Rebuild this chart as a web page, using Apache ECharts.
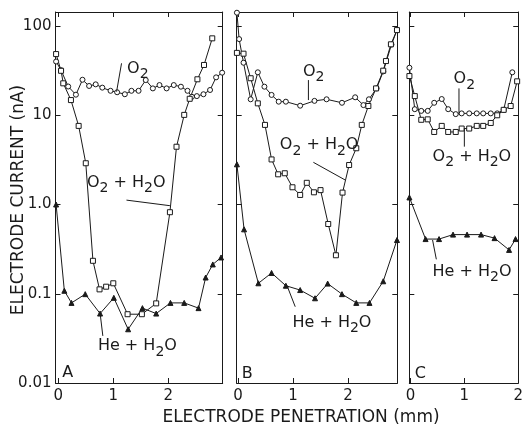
<!DOCTYPE html>
<html>
<head>
<meta charset="utf-8">
<title>Electrode current</title>
<script src="https://cdn.jsdelivr.net/npm/echarts@6/dist/echarts.min.js"></script>
<style>
  html, body { margin: 0; background: #fff; }
  #main { width: 526px; height: 426px; }
</style>
</head>
<body>
<div id="main"></div>
<script>
// ---- data: [penetration mm, current nA] ----
// panel A
var aO2 = [[-0.04, 40], [0.05, 32], [0.18, 21], [0.32, 17], [0.44, 25], [0.56, 21.3], [0.68, 22.2],
  [0.80, 20.4], [0.95, 18.8], [1.07, 18.1], [1.21, 17.2], [1.33, 18.8], [1.46, 18.8], [1.59, 24.8],
  [1.72, 20], [1.84, 21.8], [1.97, 20], [2.10, 21.8], [2.23, 20.9], [2.35, 18.8], [2.43, 16.1],
  [2.52, 16.4], [2.64, 17.2], [2.76, 19.2], [2.87, 26.6], [2.98, 30]];
var aO2H2O = [[-0.04, 48.5], [0.05, 31.5], [0.09, 22.8], [0.23, 14.8], [0.37, 7.6], [0.50, 2.9],
  [0.63, 0.234], [0.75, 0.112], [0.87, 0.120], [1.00, 0.131], [1.26, 0.059], [1.52, 0.059],
  [1.78, 0.078], [2.03, 0.82], [2.15, 4.44], [2.29, 10.1], [2.39, 15.3], [2.53, 25.3],
  [2.65, 36.6], [2.80, 72.8]];
var aHeH2O = [[-0.04, 1.0], [0.11, 0.108], [0.24, 0.079], [0.49, 0.099], [0.76, 0.060], [1.01, 0.090],
  [1.27, 0.040], [1.53, 0.069], [1.78, 0.060], [2.04, 0.079], [2.29, 0.079], [2.55, 0.069],
  [2.68, 0.152], [2.81, 0.213], [2.96, 0.255]];
// panel B
var bO2 = [[-0.02, 141], [0.02, 71.4], [0.10, 38.8], [0.23, 15.1], [0.36, 30.3], [0.48, 20.9],
  [0.61, 16.9], [0.74, 14.2], [0.87, 14.2], [1.13, 12.8], [1.39, 14.5], [1.61, 15.1], [1.89, 13.8],
  [2.13, 15.9], [2.28, 13.0], [2.38, 15.1], [2.52, 20], [2.64, 31], [2.79, 62], [2.89, 90]];
var bO2H2O = [[-0.02, 50], [0.10, 49], [0.23, 26], [0.36, 13.6], [0.49, 7.8], [0.61, 3.2],
  [0.73, 2.18], [0.85, 2.24], [0.99, 1.56], [1.13, 1.28], [1.25, 1.75], [1.38, 1.37], [1.50, 1.45],
  [1.64, 0.605], [1.78, 0.27], [1.90, 1.36], [2.02, 2.77], [2.15, 4.27], [2.25, 7.8], [2.37, 12.7],
  [2.51, 20], [2.64, 31.6], [2.69, 40.5], [2.78, 62.4], [2.89, 90]];
var bHeH2O = [[-0.02, 2.82], [0.11, 0.527], [0.37, 0.131], [0.61, 0.171], [0.87, 0.123], [1.13, 0.110],
  [1.40, 0.089], [1.63, 0.130], [1.89, 0.099], [2.15, 0.079], [2.39, 0.079], [2.64, 0.138], [2.89, 0.40]];
// panel C
var cO2 = [[-0.02, 34.1], [0.08, 11.7], [0.20, 11.2], [0.32, 11.2], [0.44, 13.8], [0.58, 15.2],
  [0.70, 11.7], [0.84, 10.3], [0.95, 10.5], [1.09, 10.5], [1.23, 10.5], [1.35, 10.5], [1.49, 10.5],
  [1.61, 10.5], [1.73, 11.5], [1.89, 30.3]];
var cO2H2O = [[-0.02, 27.5], [0.08, 16.4], [0.20, 8.9], [0.32, 9.0], [0.44, 6.5], [0.58, 7.6],
  [0.70, 6.5], [0.84, 6.5], [0.95, 7.1], [1.09, 7.1], [1.23, 7.6], [1.35, 7.6], [1.49, 8.2],
  [1.61, 10.0], [1.73, 11.5], [1.86, 12.7], [1.98, 24]];
var cHeH2O = [[-0.02, 1.2], [0.28, 0.41], [0.53, 0.41], [0.79, 0.46], [1.05, 0.46], [1.31, 0.46],
  [1.56, 0.42], [1.83, 0.31], [1.95, 0.41]];

var xTicks = [0, 1, 2];
var yTicks = [0.01, 0.1, 1, 10, 100];
var yTickText = ['0.01', '0.1', '1.0', '10', '100'];

var FONT = 'DejaVu Sans';
var INK = '#1a1a1a';

// plot frames (pixels) and x ranges of the three panels
var panels = [
  {letter: 'A', left: 55.5, width: 167.2, xmin: -0.051, xmax: 2.99},
  {letter: 'B', left: 236.7, width: 160.6, xmin: -0.024, xmax: 2.896},
  {letter: 'C', left: 409.3, width: 111.7, xmin: -0.022, xmax: 2.0}
];

// curve labels and leader lines, in data coordinates of each panel
var notes = [
  {panel: 0, text: 'O{s|2}', at: [1.25, 33.4]},
  {panel: 0, text: 'O{s|2} + H{s|2}O', at: [0.52, 1.76]},
  {panel: 0, text: 'He + H{s|2}O', at: [0.72, 0.026]},
  {panel: 0, text: 'A', at: [0.07, 0.0129]},
  {panel: 1, text: 'O{s|2}', at: [1.18, 30.9]},
  {panel: 1, text: 'O{s|2} + H{s|2}O', at: [0.76, 4.64]},
  {panel: 1, text: 'He + H{s|2}O', at: [0.99, 0.0477]},
  {panel: 1, text: 'B', at: [0.07, 0.0126]},
  {panel: 2, text: 'O{s|2}', at: [0.80, 25.3]},
  {panel: 2, text: 'O{s|2} + H{s|2}O', at: [0.41, 3.44]},
  {panel: 2, text: 'He + H{s|2}O', at: [0.41, 0.177]},
  {panel: 2, text: 'C', at: [0.08, 0.0126]}
];
var leaders = [
  {panel: 0, from: [1.15, 38.2], to: [1.06, 18.4]},
  {panel: 0, from: [1.24, 1.12], to: [2.03, 0.97]},
  {panel: 0, from: [0.76, 0.0608], to: [0.81, 0.0337]},
  {panel: 1, from: [1.28, 24.8], to: [1.28, 14.8]},
  {panel: 1, from: [1.37, 2.97], to: [1.95, 1.88]},
  {panel: 1, from: [0.91, 0.115], to: [1.04, 0.0716]},
  {panel: 2, from: [0.90, 20], to: [0.90, 10.5]},
  {panel: 2, from: [1.00, 7.14], to: [1.00, 4.45]},
  {panel: 2, from: [0.41, 0.40], to: [0.48, 0.243]}
];

function yLabel(v) {
  var k = Math.round(Math.log(v) / Math.LN10);
  for (var i = 0; i < yTicks.length; i++) {
    if (Math.round(Math.log(yTicks[i]) / Math.LN10) === k) return yTickText[i];
  }
  return '';
}

function curve(data, g, sym) {
  var filled = sym === 'triangle';
  return {
    type: 'line', data: data, xAxisIndex: g * 2, yAxisIndex: g * 2,
    symbol: sym, symbolSize: filled ? 5 : 5,
    showAllSymbol: true,
    lineStyle: {color: INK, width: 1},
    itemStyle: {color: filled ? INK : '#fff', borderColor: INK, borderWidth: 1},
    emphasis: {disabled: true},
    animation: false
  };
}

var grids = [], xAxes = [], yAxes = [];
panels.forEach(function (p, g) {
  grids.push({left: p.left, top: 12, width: p.width, height: 371});
  ['bottom', 'top'].forEach(function (pos) {
    xAxes.push({
      gridIndex: g, type: 'value', position: pos, min: p.xmin, max: p.xmax,
      axisLine: {onZero: false, lineStyle: {color: INK, width: 1}},
      axisTick: {inside: true, length: 5, customValues: xTicks, lineStyle: {color: INK}},
      axisLabel: {show: pos === 'bottom', customValues: xTicks, margin: 6,
        fontFamily: FONT, fontSize: 15, color: INK},
      splitLine: {show: false}
    });
  });
  ['left', 'right'].forEach(function (pos) {
    yAxes.push({
      gridIndex: g, type: 'log', logBase: 10, position: pos, min: 0.01, max: 143.6,
      axisLine: {onZero: false, lineStyle: {color: INK, width: 1}},
      axisTick: {inside: true, length: 5, customValues: yTicks, lineStyle: {color: INK}},
      axisLabel: {show: g === 0 && pos === 'left', customValues: yTicks, margin: 4,
        formatter: yLabel, fontFamily: FONT, fontSize: 15, color: INK},
      splitLine: {show: false},
      minorTick: {show: false}
    });
  });
});

var chart = echarts.init(document.getElementById('main'));
chart.setOption({
  backgroundColor: '#fff',
  animation: false,
  grid: grids,
  xAxis: xAxes,
  yAxis: yAxes,
  series: [
    curve(aO2, 0, 'circle'), curve(aO2H2O, 0, 'rect'), curve(aHeH2O, 0, 'triangle'),
    curve(bO2, 1, 'circle'), curve(bO2H2O, 1, 'rect'), curve(bHeH2O, 1, 'triangle'),
    curve(cO2, 2, 'circle'), curve(cO2H2O, 2, 'rect'), curve(cHeH2O, 2, 'triangle')
  ]
});

// annotations placed through the panels' own scales
var gfx = [];
notes.forEach(function (n) {
  var pt = chart.convertToPixel({gridIndex: n.panel}, n.at);
  gfx.push({
    type: 'text', x: pt[0], y: pt[1], z: 100,
    style: {
      text: n.text, fontFamily: FONT, fontSize: 16, fill: INK,
      align: 'left', verticalAlign: 'middle',
      rich: {s: {fontFamily: FONT, fontSize: 14, fill: INK, padding: [12, 0, 0, 0]}}
    }
  });
});
leaders.forEach(function (l) {
  var a = chart.convertToPixel({gridIndex: l.panel}, l.from);
  var b = chart.convertToPixel({gridIndex: l.panel}, l.to);
  gfx.push({
    type: 'line', z: 100,
    shape: {x1: a[0], y1: a[1], x2: b[0], y2: b[1]},
    style: {stroke: INK, lineWidth: 1}
  });
});
// axis titles
gfx.push({
  type: 'text', x: 301, y: 418, z: 100,
  style: {text: 'ELECTRODE PENETRATION (mm)', fontFamily: FONT, fontSize: 17, fill: INK,
    align: 'center', verticalAlign: 'middle'}
});
gfx.push({
  type: 'text', x: 19, y: 200, rotation: Math.PI / 2, z: 100,
  style: {text: 'ELECTRODE CURRENT (nA)', fontFamily: FONT, fontSize: 17, fill: INK,
    align: 'center', verticalAlign: 'middle'}
});
chart.setOption({graphic: gfx});
</script>
</body>
</html>
